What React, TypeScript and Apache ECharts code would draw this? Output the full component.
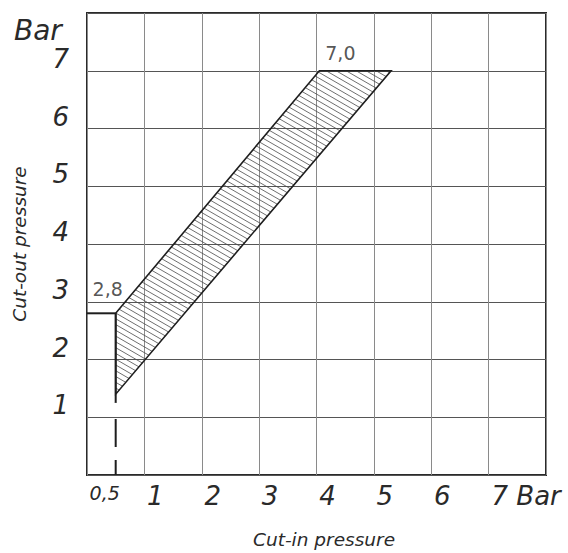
import React, { useEffect, useRef } from 'react';
import * as echarts from 'echarts';

// ---- data ----
const axisMin = 0;
const axisMax = 8;
const xTickValues = [0.5, 1, 2, 3, 4, 5, 6, 7];
const yTickValues = [1, 2, 3, 4, 5, 6, 7];
const unitLabel = 'Bar';
const xAxisTitle = 'Cut-in pressure';
const yAxisTitle = 'Cut-out pressure';

// permitted setting range (hatched band) vertices: [cut-in, cut-out]
const bandX = [0.5, 4.05, 5.3, 0.5];
const bandY = [2.8, 7.0, 7.0, 1.4];

// minimum cut-in guide (vertical at 0,5 Bar)
const guideX = [0.5, 0.5];
const guideDashY = [0, 1.25];
const guideSolidY = [1.25, 2.8];
// horizontal guide at 2,8 Bar
const guideHX = [0, 0.5];
const guideHY = [2.8, 2.8];

// annotated values
const annotX = [0.5, 4.05];
const annotY = [2.8, 7.0];

// ---- styles ----
const FONT = '"DejaVu Sans", "Liberation Sans", sans-serif';
const TEXT = '#2a2a2a';
const annotOffsets = [[-8, -24], [21, -18]];

const fmtDec = (v: number) => String(v).replace('.', ',');

export default function App() {
  const ref = useRef<HTMLDivElement>(null);
  useEffect(() => {
    document.body.style.margin = '0';
    const chart = echarts.init(ref.current!, null, { renderer: 'svg' });

    const renderBand = (params: any, api: any) => {
      if (params.dataIndex !== 0) return null;
      const pts = bandX.map((x, i) => api.coord([x, bandY[i]]));
      const theta = (30 * Math.PI) / 180;
      const d = [Math.cos(theta), Math.sin(theta)];
      const n = [-Math.sin(theta), Math.cos(theta)];
      const proj = pts.map((p: number[]) => p[0] * n[0] + p[1] * n[1]);
      const smin = Math.min(...proj);
      const smax = Math.max(...proj);
      const spacing = 5;
      const children: any[] = [];
      for (let s = smin + spacing / 2; s < smax; s += spacing) {
        const hits: number[][] = [];
        for (let i = 0; i < pts.length; i++) {
          const j = (i + 1) % pts.length;
          const a = proj[i] - s;
          const b = proj[j] - s;
          if ((a <= 0 && b > 0) || (a > 0 && b <= 0)) {
            const t = a / (a - b);
            hits.push([
              pts[i][0] + (pts[j][0] - pts[i][0]) * t,
              pts[i][1] + (pts[j][1] - pts[i][1]) * t,
            ]);
          }
        }
        if (hits.length >= 2) {
          hits.sort((p, q) => p[0] * d[0] + p[1] * d[1] - (q[0] * d[0] + q[1] * d[1]));
          const p1 = hits[0];
          const p2 = hits[hits.length - 1];
          children.push({
            type: 'line',
            shape: { x1: p1[0], y1: p1[1], x2: p2[0], y2: p2[1] },
            style: { stroke: '#4a4a4a', lineWidth: 0.8 },
          });
        }
      }
      children.push({
        type: 'polygon',
        shape: { points: pts },
        style: { fill: 'none', stroke: '#1e1e1e', lineWidth: 1.6 },
      });
      return { type: 'group', children };
    };

    const option: any = {
      animation: false,
      backgroundColor: '#ffffff',
      grid: {
        left: 87,
        right: 22,
        top: 13,
        bottom: 78,
        show: true,
        borderColor: '#2a2a2a',
        borderWidth: 2,
        outerBoundsMode: 'none',
        containLabel: false,
      },
      xAxis: {
        type: 'value',
        min: axisMin,
        max: axisMax,
        interval: 1,
        name: xAxisTitle,
        nameLocation: 'middle',
        nameGap: 55,
        nameTextStyle: {
          fontFamily: FONT,
          fontStyle: 'italic',
          fontSize: 18.5,
          color: TEXT,
          padding: [0, 0, 0, 15],
        },
        axisLine: { show: false },
        axisTick: { show: false },
        splitLine: { show: true, lineStyle: { color: '#8a8a8a', width: 1 } },
        axisLabel: {
          customValues: xTickValues,
          margin: 8,
          verticalAlign: 'top',
          formatter: (v: number) => {
            if (v === 0.5) return '{h|' + fmtDec(v) + '}';
            if (v === 7) return '{e|' + fmtDec(v) + ' ' + unitLabel + '}';
            return '{i|' + fmtDec(v) + '}';
          },
          rich: {
            h: {
              fontFamily: FONT, fontStyle: 'italic', fontSize: 19, color: TEXT,
              padding: [0, 22, 0, 0],
            },
            i: {
              fontFamily: FONT, fontStyle: 'italic', fontSize: 26, color: TEXT,
              padding: [0, 0, 0, 22],
            },
            e: {
              fontFamily: FONT, fontStyle: 'italic', fontSize: 26, color: TEXT,
              padding: [0, 0, 0, 75],
            },
          },
        },
      },
      yAxis: {
        type: 'value',
        min: axisMin,
        max: axisMax,
        interval: 1,
        name: yAxisTitle,
        nameLocation: 'middle',
        nameGap: 58,
        nameTextStyle: {
          fontFamily: FONT,
          fontStyle: 'italic',
          fontSize: 18.5,
          color: TEXT,
        },
        axisLine: { show: false },
        axisTick: { show: false },
        splitLine: { show: true, lineStyle: { color: '#555555', width: 1 } },
        axisLabel: {
          customValues: yTickValues,
          margin: 18,
          formatter: (v: number) => '{y|' + fmtDec(v) + '}',
          rich: {
            y: {
              fontFamily: FONT, fontStyle: 'italic', fontSize: 26, color: TEXT,
              padding: [0, 0, 24, 0],
            },
          },
        },
      },
      graphic: [
        {
          type: 'text',
          left: 14,
          top: 16,
          style: {
            text: unitLabel,
            fontFamily: FONT,
            fontStyle: 'italic',
            fontSize: 28,
            fill: TEXT,
          },
        },
      ],
      series: [
        {
          type: 'custom',
          renderItem: renderBand,
          data: bandX.map((x, i) => [x, bandY[i]]),
          encode: { x: 0, y: 1 },
          z: 3,
          silent: true,
        },
        {
          type: 'line',
          data: guideX.map((x, i) => [x, guideDashY[i]]),
          symbol: 'none',
          lineStyle: { color: '#1e1e1e', width: 2, type: [15, 13, 28, 16] },
          z: 4,
          silent: true,
        },
        {
          type: 'line',
          data: guideX.map((x, i) => [x, guideSolidY[i]]),
          symbol: 'none',
          lineStyle: { color: '#1e1e1e', width: 2 },
          z: 4,
          silent: true,
        },
        {
          type: 'line',
          data: guideHX.map((x, i) => [x, guideHY[i]]),
          symbol: 'none',
          lineStyle: { color: '#1e1e1e', width: 2 },
          z: 4,
          silent: true,
        },
        {
          type: 'scatter',
          symbolSize: 0,
          silent: true,
          z: 5,
          data: annotX.map((x, i) => ({
            value: [x, annotY[i]],
            label: { offset: annotOffsets[i] },
          })),
          label: {
            show: true,
            position: 'inside',
            fontFamily: FONT,
            fontSize: 19,
            color: TEXT,
            formatter: (p: any) => p.value[1].toFixed(1).replace('.', ','),
          },
        },
      ],
    };
    chart.setOption(option);
    return () => chart.dispose();
  }, []);
  return (
    <div
      ref={ref}
      style={{ position: 'absolute', left: 0, top: 0, width: 568, height: 553 }}
    />
  );
}
